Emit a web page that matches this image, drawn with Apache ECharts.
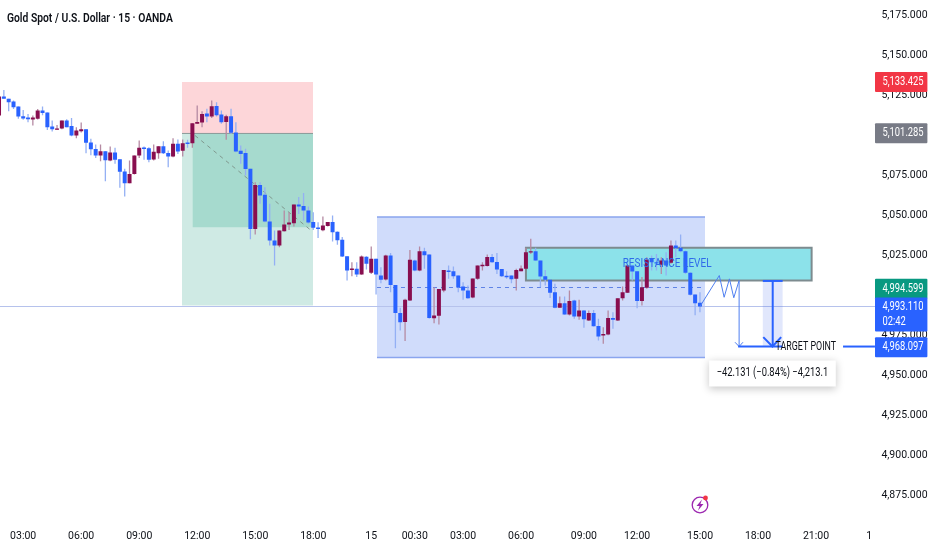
<!DOCTYPE html>
<html>
<head>
<meta charset="utf-8">
<style>html,body{margin:0;padding:0;background:#fff}#c{width:932px;height:550px}</style>
<script src="https://cdn.jsdelivr.net/npm/echarts@6/dist/echarts.min.js"></script>
</head>
<body>
<div id="c"></div>
<script>
const chartTitle = 'Gold Spot / U.S. Dollar · 15 · OANDA';
const barCount = 182;
const tickBars = [5,17,29,41,53,65,77,86,96,108,121,132,145,157,169,180];
const tickLabels = ['03:00','06:00','09:00','12:00','15:00','18:00','15','00:30','03:00','06:00','09:00','12:00','15:00','18:00','21:00','1'];
const opens = [5112.5,5124.4,5122.9,5121.2,5118.1,5112.1,5111.2,5110.0,5110.4,5115.6,5114.3,5105.6,5103.7,5104.4,5109.4,5106.0,5100.0,5102.7,5103.9,5095.6,5091.6,5087.5,5090.2,5084.4,5089.4,5085.2,5077.5,5070.2,5076.0,5087.5,5092.5,5092.1,5085.0,5088.9,5093.3,5089.1,5086.9,5094.8,5090.4,5095.6,5095.2,5107.3,5108.1,5113.8,5111.9,5118.5,5113.1,5108.5,5112.1,5101.9,5090.4,5089.0,5079.2,5041.5,5069.0,5062.9,5046.3,5034.4,5031.3,5040.2,5044.4,5045.2,5056.9,5056.0,5053.1,5046.0,5042.5,5040.8,5043.5,5046.0,5039.8,5034.8,5024.6,5016.0,5016.7,5013.1,5024.2,5014.2,5022.9,5012.5,5010.0,5025.0,5006.5,4989.0,4983.5,4996.9,5021.9,5015.6,5027.7,5025.6,4985.8,4987.3,5003.1,5015.6,5015.2,5012.5,5005.6,5003.1,4998.8,5010.4,5018.3,5018.5,5024.0,5021.0,5016.5,5012.3,5012.5,5010.4,5015.2,5016.7,5026.9,5027.7,5021.9,5012.1,5009.8,5002.1,4992.3,4995.2,4988.1,4996.9,4986.9,4990.6,4984.4,4989.0,4981.0,4975.0,4975.6,4986.0,4984.4,4998.3,5001.7,5018.8,5015.2,4996.5,5004.8,5022.9,5020.8,5019.2,5021.9,5020.4,5031.3,5029.8,5027.7,5014.2,5000.6,4995.4];
const closes = [5124.4,5122.9,5120.8,5117.7,5111.9,5110.6,5110.2,5111.2,5115.6,5114.1,5105.2,5103.9,5104.4,5109.4,5105.2,5100.0,5103.1,5103.9,5095.4,5091.4,5087.5,5090.2,5084.6,5089.4,5084.8,5077.3,5070.2,5076.0,5087.5,5092.3,5091.6,5084.8,5089.8,5093.3,5088.9,5086.9,5094.8,5090.0,5095.2,5094.8,5107.7,5108.5,5113.5,5111.9,5118.3,5112.7,5108.3,5112.1,5101.7,5090.0,5088.5,5079.0,5041.5,5069.0,5062.5,5046.3,5034.4,5031.3,5040.6,5044.4,5045.6,5056.9,5055.6,5053.1,5045.6,5042.3,5041.5,5043.8,5046.0,5039.6,5034.6,5024.4,5015.6,5016.9,5013.1,5024.4,5019.8,5022.9,5013.1,5009.8,5025.0,5006.5,4989.0,4983.3,4997.3,5022.3,5015.6,5027.7,5025.2,4986.0,4987.5,5004.0,5016.0,5015.0,5012.1,5005.0,5003.1,4998.3,5010.6,5018.8,5019.2,5024.0,5020.8,5016.3,5012.1,5011.7,5010.2,5016.0,5016.9,5027.1,5027.7,5021.9,5011.9,5009.8,5001.7,4992.3,4995.2,4988.1,4996.5,4986.9,4990.6,4985.2,4989.0,4980.8,4974.4,4976.0,4986.0,4984.8,4998.3,5002.1,5018.8,5015.0,4996.5,5005.2,5022.3,5020.8,5020.4,5021.9,5018.8,5031.3,5029.6,5027.7,5014.2,5000.4,4995.2,4993.1];
const highs = [5126.0,5128.5,5122.9,5121.9,5118.1,5116.0,5113.5,5112.5,5116.6,5118.1,5114.3,5109.4,5106.6,5109.4,5110.2,5111.0,5105.2,5108.1,5103.9,5097.9,5094.4,5094.4,5090.2,5093.1,5092.3,5085.2,5079.2,5084.4,5087.5,5096.9,5093.1,5092.7,5094.4,5093.3,5096.4,5090.6,5098.3,5097.5,5097.5,5097.3,5107.7,5118.7,5115.2,5116.7,5121.9,5120.8,5115.6,5112.9,5116.7,5108.3,5093.8,5091.7,5079.2,5070.8,5070.8,5067.7,5057.3,5040.6,5040.6,5053.1,5052.1,5056.9,5061.5,5064.0,5055.6,5052.1,5045.8,5049.4,5046.0,5050.0,5040.0,5036.5,5024.6,5020.8,5020.8,5025.0,5024.6,5030.6,5022.9,5017.7,5025.4,5026.5,5006.5,4992.3,4997.9,5028.5,5022.3,5030.6,5029.8,5025.6,5005.2,5004.0,5016.0,5018.8,5018.1,5012.5,5008.3,5006.2,5010.6,5018.8,5020.8,5025.6,5026.0,5026.5,5016.5,5015.2,5012.5,5016.7,5018.8,5029.8,5035.4,5029.8,5021.9,5016.0,5009.8,5007.3,4999.4,4999.4,5003.1,4997.3,4997.3,4991.0,4990.6,4991.0,4985.4,4980.2,4990.6,4989.6,4998.3,5005.6,5018.8,5018.8,5015.2,5011.5,5023.9,5025.0,5026.0,5023.9,5027.1,5034.4,5034.4,5038.1,5028.1,5014.6,5000.6,5002.1];
const lows = [5111.9,5122.9,5115.2,5116.6,5110.4,5109.8,5108.3,5106.2,5110.0,5112.7,5103.5,5102.5,5103.5,5103.9,5105.2,5099.6,5098.3,5101.9,5088.9,5087.7,5086.0,5083.9,5071.4,5083.9,5082.3,5067.3,5061.9,5070.2,5075.6,5086.0,5084.8,5083.3,5084.4,5085.4,5088.5,5080.2,5086.4,5088.5,5086.9,5092.3,5092.3,5107.3,5105.2,5108.3,5111.0,5111.9,5107.3,5097.3,5101.0,5089.6,5082.3,5075.0,5035.2,5038.1,5057.3,5045.8,5031.3,5018.8,5030.2,5040.0,5041.0,5043.1,5051.0,5046.9,5044.8,5041.0,5036.0,5040.2,5043.1,5033.8,5031.7,5024.0,5009.4,5012.1,5011.5,5012.9,5016.3,5013.5,5000.6,5007.7,5009.4,5002.1,4967.1,4978.1,4971.5,4996.5,5015.2,5015.2,5016.7,4985.4,4982.7,4981.9,5002.1,5010.4,5010.4,5002.1,4997.3,4997.9,4998.3,5009.8,5015.6,5018.1,5020.4,5013.5,5011.5,5010.4,5007.7,5003.1,5015.2,5016.7,5026.0,5021.5,5005.2,5006.3,4998.5,4992.1,4992.3,4987.9,4987.5,4985.4,4984.8,4979.8,4984.0,4980.6,4971.9,4969.8,4975.2,4979.2,4984.0,4996.9,5001.5,5009.4,4992.1,4993.8,5004.2,5015.6,5015.6,5013.5,5012.5,5019.8,5024.0,5027.1,5013.5,5000.0,4987.7,4989.6];

const stopLoss = 5133.425, entry = 5101.285, lastPrice = 4993.11, bidPrice = 4994.599, target = 4968.097;
const countdown = '02:42';
const measureText = '\u221242.131 (\u22120.84%) \u22124,213.1';

const FONT = 'Roboto,sans-serif';
const BLUE = '#2962ff', MAROON = '#880e4f', BLUE_WICK = '#94b0f4', MAROON_WICK = '#b58aa3';
const INK = '#0d1017';
const SQUEEZE = 0.78;
const fmt = v => v.toLocaleString('en-US', {minimumFractionDigits:3, maximumFractionDigits:3});

const categories = Array.from({length: barCount}, (_, i) => {
  const k = tickBars.indexOf(i); return k >= 0 ? tickLabels[k] : '';
});
const candleRows = opens.map((o, i) => [i, o, closes[i], lows[i], highs[i]]);

function tools(api) {
  const rect = (u0, p0, u1, p1, style) => {
    const a = api.coord([u0, p0]), b = api.coord([u1, p1]);
    return {type:'rect', shape:{x:a[0], y:a[1], width:b[0]-a[0], height:b[1]-a[1]}, style};
  };
  const line = (pts, style) => ({type:'polyline', shape:{points:pts.map(p => api.coord(p))}, style:Object.assign({fill:null}, style)});
  const text = (u, p, t, style, sx) => {
    const a = api.coord([u, p]);
    return {type:'text', x:a[0], y:a[1], scaleX:sx || SQUEEZE, style:Object.assign({x:0, y:0, text:t, textAlign:'center', verticalAlign:'middle', font:'12px '+FONT, fill:INK}, style)};
  };
  return {rect, line, text};
}

function renderBelow(params, api) {
  const {rect, line} = tools(api);
  return {type:'group', children:[
    rect(38.35, stopLoss, 65.45, entry, {fill:'#fdd6d9'}),
    rect(38.35, entry, 65.45, 4993.75, {fill:'#cfeae4'}),
    rect(40.57, entry, 65.45, 5042.7, {fill:'#a6dace'}),
    line([[38.35,entry],[65.45,entry]], {stroke:'#8a9a98', lineWidth:1}),
    line([[41.04,5100],[64.83,5041.25]], {stroke:'#80998f', lineWidth:1, lineDash:[4,4]}),
    rect(78.69, 5049.1, 146.54, 4961.25, {fill:'#d0dcfb'}),
    line([[78.69,5049.1],[146.54,5049.1]], {stroke:'#8aa5ee', lineWidth:1.5}),
    line([[78.69,4961.25],[146.54,4961.25]], {stroke:'#8aa5ee', lineWidth:1.5}),
    line([[78.69,5005],[146.54,5005]], {stroke:'#5f83e6', lineWidth:1, lineDash:[4,4]}),
    line([[0,lastPrice],[barCount,lastPrice]], {stroke:'#b6c2ec', lineWidth:1}),
    rect(109.5, 5029.8, 168.6, 5009.4, {fill:'#8ce2ea', stroke:'#7d8b8f', lineWidth:2})
  ]};
}

function renderCandle(params, api) {
  const i = api.value(0), o = api.value(1), c = api.value(2), l = api.value(3), h = api.value(4);
  const up = c >= o;
  const x = api.coord([i, o])[0];
  const yo = api.coord([i, o])[1], yc = api.coord([i, c])[1], yl = api.coord([i, l])[1], yh = api.coord([i, h])[1];
  const top = Math.min(yo, yc), height = Math.max(Math.abs(yo - yc), 1.4);
  return {type:'group', children:[
    {type:'line', shape:{x1:x, y1:yh, x2:x, y2:yl}, style:{stroke: up ? MAROON_WICK : BLUE_WICK, lineWidth:1.3}},
    {type:'rect', shape:{x:x-2, y:top, width:4, height}, style:{fill: up ? MAROON : BLUE}}
  ]};
}

function renderAbove(params, api) {
  const {rect, line, text} = tools(api);
  const thin = {stroke:'#4f7ff0', lineWidth:1};
  const thick = {stroke:BLUE, lineWidth:2};
  return {type:'group', children:[
    text(138.7, 5020, 'RESISTANCE LEVEL', {fill:'#2f6bea', font:'12.5px '+FONT}, 0.8),
    line([[145.5,lastPrice],[149.5,5012.5],[150.5,4998.9],[151.6,5010.4],[152.5,4998.6],[153.6,5009.4],[153.6,target]], thin),
    line([[152.75,4970.8],[153.6,target],[154.4,4970.8]], thin),
    rect(158.5, 5009.4, 162.6, target, {fill:'rgba(80,110,240,0.17)'}),
    line([[158.5,5009.1],[162.6,5009.1]], thick),
    line([[160.55,5009.1],[160.55,target]], thick),
    line([[158.6,4974],[160.5,target],[162.3,4974]], thick),
    line([[153.4,target],[162.6,target]], thick),
    line([[175.1,target],[181.7,target]], thick),
    text(167.4, target, 'TARGET POINT', {}, 0.74),
    rect(147.4, 4959.4, 173.6, 4943.1, {fill:'#fff', shadowBlur:8, shadowOffsetY:2, shadowColor:'rgba(0,0,0,0.22)'}),
    text(160.5, 4951.3, measureText, {})
  ]};
}

function renderTags(params, api) {
  const cs = params.coordSys;
  const x = cs.x + cs.width - 1.4, w = 52.4;
  const tag = (price, dy, h, fill, lines) => {
    const y = api.coord([0, price])[1] + dy;
    const kids = [{type:'rect', shape:{x, y:y-h/2, width:w, height:h, r:1}, style:{fill}}];
    lines.forEach((t, k) => kids.push({type:'text', x:x+7.5, y:y-(lines.length-1)*7.5+k*15, scaleX:SQUEEZE, style:{x:0, y:0, text:t, textAlign:'left', verticalAlign:'middle', font:'12px '+FONT, fill:'#fff'}}));
    return {type:'group', children:kids};
  };
  return {type:'group', children:[
    tag(stopLoss, -0.1, 20, '#f23645', [fmt(stopLoss)]),
    tag(entry, -0.2, 20, '#787b86', [fmt(entry)]),
    tag(bidPrice, -15.5, 20, '#089981', [fmt(bidPrice)]),
    tag(lastPrice, 7.9, 34, BLUE, [fmt(lastPrice), countdown]),
    tag(target, 0.8, 20, BLUE, [fmt(target)])
  ]};
}

const chart = echarts.init(document.getElementById('c'), null, {renderer:'canvas', width:932, height:550});
chart.setOption({
  animation:false,
  backgroundColor:'#fff',
  grid:{left:-3.4, top:-24.5, width:879.8, height:560, outerBoundsMode:'none', containLabel:false},
  xAxis:[
    {type:'category', data:categories, boundaryGap:true, axisLine:{show:false}, axisTick:{show:false}, splitLine:{show:false},
     axisLabel:{interval:(i, v) => v !== '', margin:-4.5, fontFamily:FONT, fontSize:10.5, color:INK, hideOverlap:false}},
    {type:'value', min:0, max:barCount, show:false, splitLine:{show:false}}
  ],
  yAxis:[{type:'value', position:'right', min:4850, max:5200, interval:25, axisLine:{show:false}, axisTick:{show:false}, splitLine:{show:false},
     axisLabel:{showMinLabel:false, showMaxLabel:false, margin:5, fontFamily:FONT, fontSize:10.5, color:INK, formatter:fmt}}],
  series:[
    {type:'custom', name:'Zones', xAxisIndex:1, yAxisIndex:0, z:1, clip:true, silent:true, renderItem:renderBelow, data:[[0,5000]]},
    {type:'custom', name:'XAU/USD', xAxisIndex:0, yAxisIndex:0, z:3, clip:true, renderItem:renderCandle, encode:{x:0, y:[1,2,3,4]}, data:candleRows},
    {type:'custom', name:'Drawings', xAxisIndex:1, yAxisIndex:0, z:4, clip:false, silent:true, renderItem:renderAbove, data:[[0,5000]]},
    {type:'custom', name:'Price tags', xAxisIndex:1, yAxisIndex:0, z:10, clip:false, silent:true, renderItem:renderTags, data:[[0,5000]]}
  ],
  graphic:[
    {type:'text', x:7, y:18.5, scaleX:0.86, style:{text:chartTitle, font:'600 12px Roboto,sans-serif', fill:INK, verticalAlign:'middle', textAlign:'left'}},
    {type:'group', x:691, y:496, silent:true, children:[
      {type:'circle', shape:{cx:9, cy:9, r:7.8}, style:{fill:'none', stroke:'#9c27b0', lineWidth:1.3}},
      {type:'polygon', shape:{points:[[11,3.5],[5.5,10],[8.6,10],[7,14.5],[12.5,8],[9.4,8]]}, style:{fill:'#9c27b0'}},
      {type:'circle', shape:{cx:14.5, cy:2, r:2.4}, style:{fill:'#f23645'}}
    ]}
  ]
});
</script>
</body>
</html>
